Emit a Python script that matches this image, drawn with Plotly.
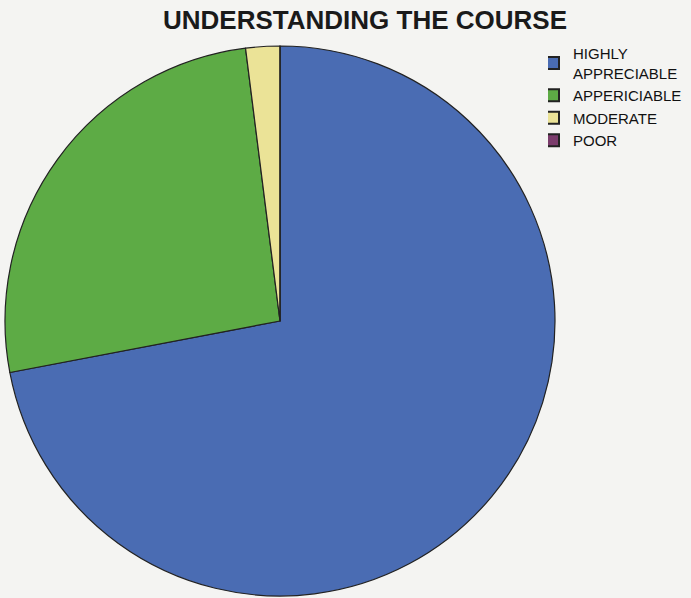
import plotly.graph_objects as go

categories = ["HIGHLY<br>APPRECIABLE", "APPERICIABLE", "MODERATE", "POOR"]
values = [36, 13, 1, 0]
colors = ["#4a6cb3", "#5dab45", "#ebe397", "#7b3c6c"]

W, H = 691, 598
R = 275
CX, CY = 280, 321
TOP = CY - R
fig = go.Figure(go.Pie(
    labels=categories,
    values=values,
    sort=False,
    direction="clockwise",
    rotation=0,
    textinfo="none",
    hoverinfo="label+percent",
    marker=dict(colors=colors, line=dict(color="#222222", width=1.2)),
    domain=dict(x=[(CX - R) / W, (CX + R) / W], y=[0, 1]),
    showlegend=True,
))

plot_h = H - TOP - max(0, H - (CY + R))
fig.update_layout(
    width=W, height=H,
    margin=dict(l=0, r=0, t=TOP, b=max(0, H - (CY + R))),
    paper_bgcolor="#f4f4f2",
    plot_bgcolor="#f4f4f2",
    title=dict(text="<b>UNDERSTANDING THE COURSE</b>", x=365 / W, xanchor="center",
               y=1 - 20 / H, yanchor="middle",
               font=dict(family="Liberation Sans, Arial", size=26, color="#1a1a1a")),
    legend=dict(x=548 / W, y=1 + (TOP - 37) / plot_h, xanchor="left", yanchor="top",
                font=dict(family="Liberation Sans, Arial", size=15, color="#111111"),
                bgcolor="rgba(0,0,0,0)", tracegroupgap=0, itemsizing="constant",
                traceorder="normal", itemwidth=30, indentation=-15),
)

fig.write_html("out.html", config={"displayModeBar": False},
               post_script="document.body.style.margin='0';document.body.style.overflow='hidden';")
